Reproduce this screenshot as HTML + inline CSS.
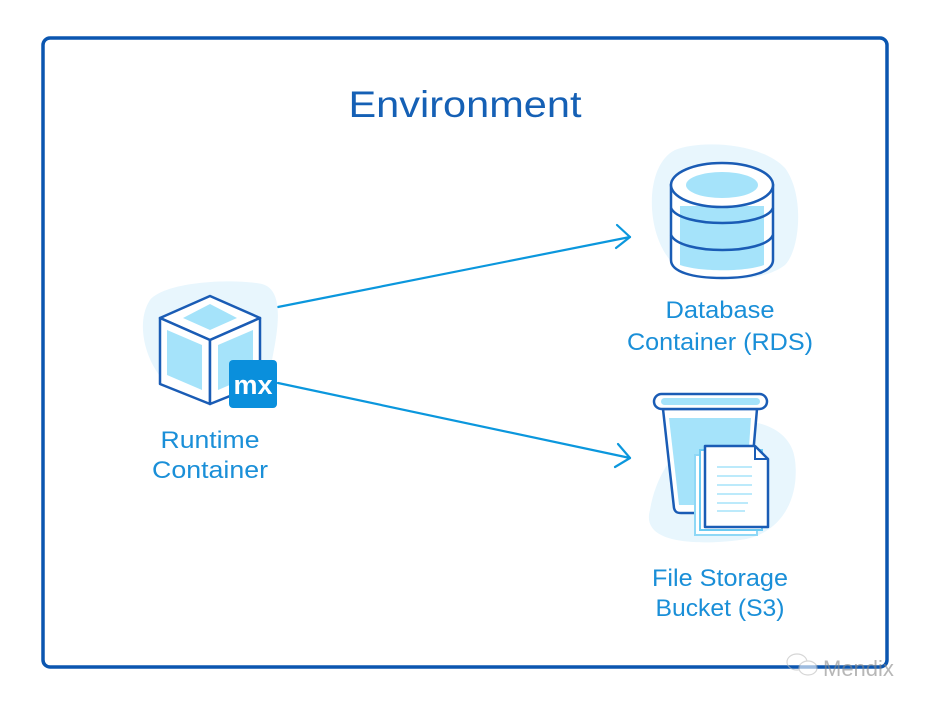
<!DOCTYPE html>
<html><head><meta charset="utf-8"><style>
html,body{margin:0;padding:0;background:#fff;}
svg{display:block;}
text{font-family:"Liberation Sans",sans-serif;}
</style></head><body>
<svg width="930" height="707" viewBox="0 0 930 707" xmlns="http://www.w3.org/2000/svg">
<rect x="43" y="38" width="844" height="629" rx="7" fill="#fff" stroke="#0b56b0" stroke-width="3.5"/>
<text x="465" y="117" text-anchor="middle" font-size="37" fill="#1560b5" textLength="233" lengthAdjust="spacingAndGlyphs">Environment</text>

<g stroke="#0b97dd" stroke-width="2.2" fill="none" stroke-linecap="round" stroke-linejoin="round">
<line x1="278" y1="307" x2="630" y2="237"/>
<polyline points="617,225 630,237 616,248"/>
<line x1="278" y1="383" x2="630" y2="458"/>
<polyline points="618,444 630,458 615,467"/>
</g>

<path d="M150,300 C165,282 230,278 262,284 C285,290 278,330 272,360 C265,392 220,398 190,395 C155,392 130,330 150,300 Z" fill="#e8f6fd"/>
<g stroke="#1a5cb5" stroke-width="2.5" stroke-linejoin="round">
<polygon points="210,296 160,318 210,340 260,318" fill="#fff"/>
<polygon points="160,318 210,340 210,404 160,384" fill="#fff"/>
<polygon points="210,340 260,318 260,384 210,404" fill="#fff"/>
</g>
<polygon points="210,304 183,318 210,330 237,318" fill="#a5e3fa"/>
<polygon points="167,330 202,345 202,390 167,375" fill="#a5e3fa"/>
<polygon points="218,345 253,330 253,375 218,390" fill="#a5e3fa"/>
<rect x="229" y="360" width="48" height="48" rx="4" fill="#0a8fdc"/>
<text x="253" y="394" text-anchor="middle" font-size="27" font-weight="bold" fill="#fff">mx</text>
<text x="210" y="448" text-anchor="middle" font-size="24" fill="#1a8fd8" textLength="99" lengthAdjust="spacingAndGlyphs">Runtime</text>
<text x="210" y="478" text-anchor="middle" font-size="24" fill="#1a8fd8" textLength="116" lengthAdjust="spacingAndGlyphs">Container</text>

<path d="M675,150 C700,140 760,142 785,168 C805,195 800,250 785,265 C760,285 690,285 670,260 C645,230 645,165 675,150 Z" fill="#e8f6fd"/>
<path d="M671,185 L671,260 C671,272 693,278 722,278 C751,278 773,272 773,260 L773,185 Z" fill="#fff" stroke="#1a5cb5" stroke-width="2.5"/>
<path d="M680,206 L680,265 C700,272 745,272 764,265 L764,206 Z" fill="#a5e3fa"/>
<ellipse cx="722" cy="185" rx="51" ry="22" fill="#fff" stroke="#1a5cb5" stroke-width="2.5"/>
<ellipse cx="722" cy="185" rx="36" ry="13" fill="#a5e3fa"/>
<path d="M671,208 C680,228 765,228 773,208" fill="none" stroke="#1a5cb5" stroke-width="2.5"/>
<path d="M671,235 C680,255 765,255 773,235" fill="none" stroke="#1a5cb5" stroke-width="2.5"/>
<text x="720" y="318" text-anchor="middle" font-size="24" fill="#1a8fd8" textLength="109" lengthAdjust="spacingAndGlyphs">Database</text>
<text x="720" y="350" text-anchor="middle" font-size="24" fill="#1a8fd8" textLength="186" lengthAdjust="spacingAndGlyphs">Container (RDS)</text>

<path d="M690,440 C720,410 790,415 795,460 C800,500 780,535 740,540 C700,545 640,545 650,510 C655,480 670,455 690,440 Z" fill="#e8f6fd"/>
<path d="M663,409 L674,508 C675,512 677,513 681,513 L748,513 L757,409 Z" fill="#fff" stroke="#1a5cb5" stroke-width="2.5" stroke-linejoin="round"/>
<path d="M669,418 L679,505 L745,505 L751,418 Z" fill="#a5e3fa"/>
<rect x="654" y="394" width="113" height="15" rx="7.5" fill="#fff" stroke="#1a5cb5" stroke-width="2.5"/>
<rect x="661" y="398" width="99" height="7" rx="3.5" fill="#a5e3fa"/>
<rect x="695" y="455" width="62" height="80" fill="#fff" stroke="#8fd8f6" stroke-width="2"/>
<rect x="700" y="450" width="62" height="80" fill="#fff" stroke="#6ccbf2" stroke-width="2"/>
<path d="M705,446 L755,446 L768,459 L768,527 L705,527 Z" fill="#fff" stroke="#1a5cb5" stroke-width="2.5" stroke-linejoin="round"/>
<path d="M755,446 L755,459 L768,459" fill="none" stroke="#1a5cb5" stroke-width="2"/>
<g stroke="#a5e3fa" stroke-width="1.5">
<line x1="717" y1="467" x2="752" y2="467"/>
<line x1="717" y1="476" x2="752" y2="476"/>
<line x1="717" y1="485" x2="752" y2="485"/>
<line x1="717" y1="494" x2="752" y2="494"/>
<line x1="717" y1="503" x2="748" y2="503"/>
<line x1="717" y1="511" x2="745" y2="511"/>
</g>
<text x="720" y="586" text-anchor="middle" font-size="24" fill="#1a8fd8" textLength="136" lengthAdjust="spacingAndGlyphs">File Storage</text>
<text x="720" y="616" text-anchor="middle" font-size="24" fill="#1a8fd8" textLength="129" lengthAdjust="spacingAndGlyphs">Bucket (S3)</text>

<g opacity="0.6">
<ellipse cx="797" cy="662" rx="10" ry="8" fill="none" stroke="#bbb" stroke-width="1.2"/>
<ellipse cx="808" cy="668" rx="9" ry="7" fill="#fff" stroke="#bbb" stroke-width="1.2"/>
</g>
<text x="823" y="676" font-size="22" fill="#888" opacity="0.6">Mendix</text>
</svg>
</body></html>
